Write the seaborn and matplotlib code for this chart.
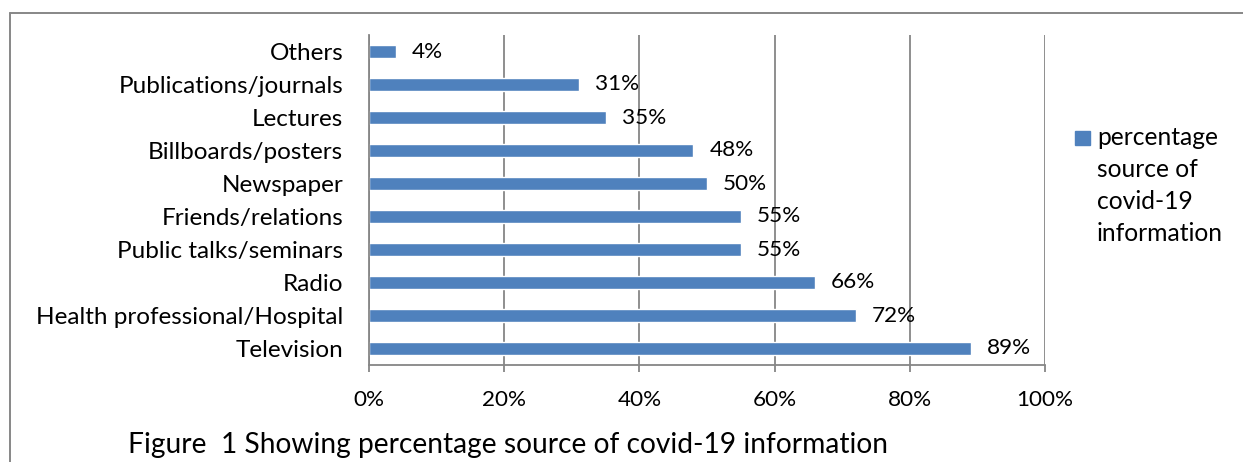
import matplotlib
matplotlib.use("Agg")
import matplotlib.pyplot as plt
import seaborn as sns
import pandas as pd
from matplotlib.patches import Rectangle
from matplotlib.lines import Line2D

# Survey data: sources of covid-19 information (percent of respondents)
categories = ["Others", "Publications/journals", "Lectures", "Billboards/posters",
              "Newspaper", "Friends/relations", "Public talks/seminars", "Radio",
              "Health professional/Hospital", "Television"]
percentages = [4, 31, 35, 48, 50, 55, 55, 66, 72, 89]
x_ticks = [0, 20, 40, 60, 80, 100]
x_tick_labels = ["0%", "20%", "40%", "60%", "80%", "100%"]
legend_lines = ["percentage", "source of", "covid-19", "information"]
caption = "Figure  1 Showing percentage source of covid-19 information"

BAR = "#4F81BD"
GRID = "#868686"
FRAME = "#878787"
FONT = "Lato"
W, H, DPI = 1243, 462, 100

sns.set_theme(style="white")
plt.rcParams["font.family"] = [FONT, "DejaVu Sans"]

fig = plt.figure(figsize=(W / DPI, H / DPI), dpi=DPI)
renderer = fig.canvas.get_renderer()


def fx(px):
    return px / W


def fy(py):
    return 1 - py / H


def fit_size(text, width_px):
    t = fig.text(0, 0, text, fontsize=10)
    w = t.get_window_extent(renderer).width
    t.remove()
    return 10 * width_px / w


cat_size = fit_size("Health professional/Hospital", 307)
tick_size = fit_size("100%", 57)
cap_size = fit_size(caption, 759)
leg_size = fit_size("information", 127)

ax = fig.add_axes([fx(369), fy(365), (1045 - 369) / W, (365 - 35) / H])
df = pd.DataFrame({"source": categories, "pct": percentages})
sns.barplot(data=df, x="pct", y="source", color=BAR, saturation=1,
            width=0.38, ax=ax)

ax.set_xlim(0, 100)
ax.set_xticks(x_ticks, x_tick_labels)
ax.set_xlabel("")
ax.set_ylabel("")
ax.xaxis.grid(True, color=GRID, linewidth=1.3)
ax.yaxis.grid(False)
ax.set_axisbelow(True)
for side in ("top", "right"):
    ax.spines[side].set_visible(False)
for side in ("left", "bottom"):
    ax.spines[side].set_color(GRID)
    ax.spines[side].set_linewidth(1.3)

ax.tick_params(axis="x", bottom=True, length=5, width=1.3, color=GRID,
               direction="out", pad=13, labelsize=tick_size, labelcolor="black")
ax.tick_params(axis="y", left=False, length=0, pad=18.5, labelsize=cat_size,
               labelcolor="black")

ax.bar_label(ax.containers[0], labels=[f"{v}%" for v in percentages],
             padding=11.5, fontsize=tick_size, color="black")

# Legend: swatch beside the first line of the wrapped series name
fig.add_artist(Rectangle((fx(1075), fy(145)), 15 / W, 14 / H,
                         transform=fig.transFigure, color=BAR))
for i, line in enumerate(legend_lines):
    fig.text(fx(1097), fy(145 + 32 * i), line, fontsize=leg_size,
             va="baseline", ha="left", color="black")

# Caption below the chart
fig.text(fx(128), fy(453), caption, fontsize=cap_size, va="baseline",
         ha="left", color="black")

# Frame around the chart area
fig.add_artist(Line2D([fx(10), fx(10)], [fy(13), 0], transform=fig.transFigure,
                      color=FRAME, linewidth=1.4))
fig.add_artist(Line2D([fx(10), 1], [fy(13), fy(13)], transform=fig.transFigure,
                      color=FRAME, linewidth=1.4))

fig.savefig("out.png", dpi=DPI)
